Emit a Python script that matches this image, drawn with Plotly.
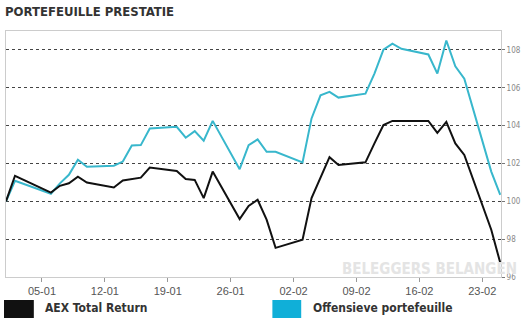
import plotly.graph_objects as go

# ---- data ----
dates = ["2015-01-01", "2015-01-02", "2015-01-06", "2015-01-07", "2015-01-08", "2015-01-09",
         "2015-01-10", "2015-01-13", "2015-01-14", "2015-01-15", "2015-01-16", "2015-01-17",
         "2015-01-20", "2015-01-21", "2015-01-22", "2015-01-23", "2015-01-24", "2015-01-27",
         "2015-01-28", "2015-01-29", "2015-01-30", "2015-01-31", "2015-02-03", "2015-02-04",
         "2015-02-05", "2015-02-06", "2015-02-07", "2015-02-10", "2015-02-11", "2015-02-12",
         "2015-02-13", "2015-02-14", "2015-02-17", "2015-02-18", "2015-02-19", "2015-02-20",
         "2015-02-21", "2015-02-24", "2015-02-25"]
aex = [100.0, 101.35, 100.46, 100.82, 100.95, 101.3,
       100.99, 100.73, 101.1, 101.17, 101.25, 101.78,
       101.6, 101.18, 101.13, 100.17, 101.57, 99.06,
       99.76, 100.08, 99.03, 97.54, 97.97, 100.17,
       101.3, 102.33, 101.92, 102.06, 103.06, 104.03,
       104.25, 104.25, 104.25, 103.62, 104.2, 103.06,
       102.45, 98.5, 96.75]
offensief = [100.0, 101.08, 100.4, 100.95, 101.4, 102.2,
             101.83, 101.88, 102.1, 102.95, 102.97, 103.85,
             103.94, 103.36, 103.71, 103.2, 104.25, 101.7,
             102.97, 103.27, 102.62, 102.62, 102.06, 104.38,
             105.6, 105.78, 105.48, 105.69, 106.75, 108.01,
             108.33, 108.06, 107.76, 106.75, 108.5, 107.13,
             106.48, 101.57, 100.34]
series_names = ["AEX Total Return", "Offensieve portefeuille"]
x_tickvals = ["2015-01-05", "2015-01-12", "2015-01-19", "2015-01-26",
              "2015-02-02", "2015-02-09", "2015-02-16", "2015-02-23"]
x_ticktext = ["05-01", "12-01", "19-01", "26-01", "02-02", "09-02", "16-02", "23-02"]
y_tickvals = [96, 98, 100, 102, 104, 106, 108]
title_text = "PORTEFEUILLE PRESTATIE"
watermark = "BELEGGERS BELANGEN"

# ---- styling ----
W, H = 526, 323
ML, MR, MT, MB = 5, 23, 31, 46
PW, PH = W - ML - MR, H - MT - MB
BLACK = "#111111"
TEAL_LINE = "#38b7cc"
TEAL_BOX = "#10afd8"
NARROW = "Liberation Sans Narrow, DejaVu Sans Condensed, Arial Narrow, sans-serif"

def px(x):
    return (x - ML) / PW

def py(y):
    return (H - MB - y) / PH

fig = go.Figure()
fig.add_trace(go.Scatter(x=dates, y=offensief, mode="lines", name=series_names[1],
                         line=dict(color=TEAL_LINE, width=2), showlegend=False))
fig.add_trace(go.Scatter(x=dates, y=aex, mode="lines", name=series_names[0],
                         line=dict(color=BLACK, width=2), showlegend=False))

fig.update_layout(
    width=W, height=H,
    margin=dict(l=ML, r=MR, t=MT, b=MB),
    paper_bgcolor="white", plot_bgcolor="white",
    xaxis=dict(type="date", range=["2015-01-01", "2015-02-25 02:00"],
               tickvals=x_tickvals, ticktext=x_ticktext,
               showgrid=False, zeroline=False,
               showline=True, linecolor="#cccccc", linewidth=1, mirror=True,
               ticks="outside", ticklen=4, tickcolor="#999999",
               tickfont=dict(family="Liberation Sans, Arial, sans-serif", size=11, color="#555555")),
    yaxis=dict(range=[96, 109], tickvals=y_tickvals, side="right",
               showgrid=True, gridcolor="#444444", griddash="dot", gridwidth=1,
               zeroline=False,
               showline=True, linecolor="#cccccc", linewidth=1, mirror=True,
               ticks="outside", ticklen=3, tickcolor="#777777",
               tickfont=dict(family=NARROW, size=8, color="#888888")),
)

annotations = [
    dict(text="<b>" + title_text + "</b>", xref="paper", yref="paper",
         x=px(2), y=py(11), xanchor="left", yanchor="middle", showarrow=False,
         font=dict(family=NARROW, size=13, color="#333333")),
    dict(text="<b>" + watermark + "</b>", xref="paper", yref="paper",
         x=px(341), y=py(269), xanchor="left", yanchor="middle", showarrow=False,
         font=dict(family=NARROW, size=15, color="#e4e4e4")),
    dict(text="<b>" + series_names[0] + "</b>", xref="paper", yref="paper",
         x=px(42), y=py(308), xanchor="left", yanchor="middle", showarrow=False,
         font=dict(family=NARROW, size=12, color="#333333")),
    dict(text="<b>" + series_names[1] + "</b>", xref="paper", yref="paper",
         x=px(312), y=py(308), xanchor="left", yanchor="middle", showarrow=False,
         font=dict(family=NARROW, size=12, color="#333333")),
]
shapes = [
    dict(type="rect", xref="paper", yref="paper", x0=px(3), x1=px(33), y0=py(300), y1=py(318),
         fillcolor=BLACK, line=dict(width=0)),
    dict(type="rect", xref="paper", yref="paper", x0=px(273), x1=px(302), y0=py(300), y1=py(318),
         fillcolor=TEAL_BOX, line=dict(width=0)),
]
fig.update_layout(annotations=annotations, shapes=shapes)

fig.write_html("out.html")
